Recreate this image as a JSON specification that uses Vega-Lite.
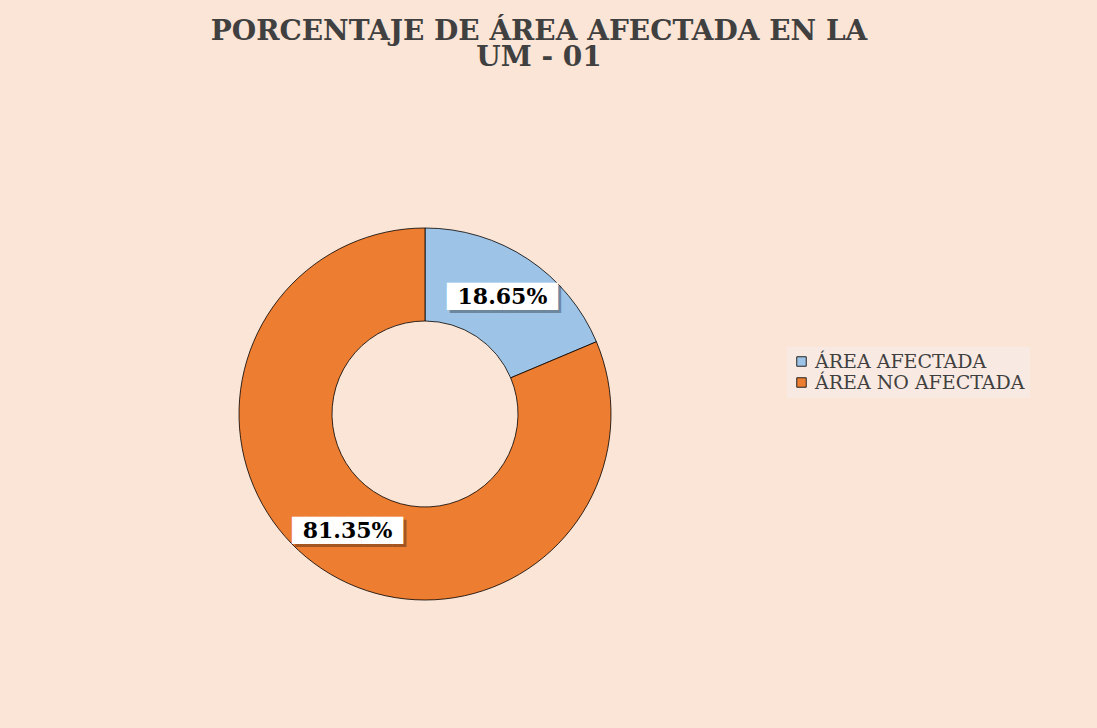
{
  "$schema": "https://vega.github.io/schema/vega-lite/v6.json",
  "autosize": "none",
  "width": 840,
  "height": 628,
  "padding": {"left": 5, "top": 100, "right": 252, "bottom": 0},
  "background": "#FBE5D6",
  "title": {
    "text": ["PORCENTAJE DE ÁREA AFECTADA EN LA", "UM - 01"],
    "font": "DejaVu Serif",
    "fontSize": 28,
    "fontWeight": "bold",
    "color": "#404040",
    "anchor": "middle",
    "frame": "group",
    "dx": 114,
    "offset": 28,
    "lineHeight": 26
  },
  "data": {
    "values": [
      {"area": "ÁREA AFECTADA", "pct": 0.1865},
      {"area": "ÁREA NO AFECTADA", "pct": 0.8135}
    ]
  },
  "encoding": {
    "theta": {"field": "pct", "type": "quantitative", "stack": true}
  },
  "layer": [
    {
      "mark": {"type": "arc", "outerRadius": 186, "innerRadius": 93, "stroke": "#000000", "strokeWidth": 0.8},
      "encoding": {
        "color": {
          "field": "area",
          "type": "nominal",
          "scale": {"domain": ["ÁREA AFECTADA", "ÁREA NO AFECTADA"], "range": ["#9DC3E6", "#ED7D31"]},
          "legend": {
            "title": null,
            "orient": "none",
            "legendX": 782,
            "legendY": 247,
            "symbolType": "square",
            "symbolSize": 90,
            "symbolStrokeColor": "#222222",
            "symbolStrokeWidth": 1,
            "labelFont": "DejaVu Serif",
            "labelFontSize": 19,
            "labelLimit": 400,
            "labelColor": "#404040",
            "rowPadding": 1,
            "fillColor": "#F8EAE2",
            "padding": 5
          }
        }
      }
    },
    {
      "mark": {"type": "text", "radius": 140, "text": "████████", "font": "DejaVu Sans Mono", "fontSize": 23, "color": "#000000", "opacity": 0.3, "dx": 3, "dy": 3}
    },
    {
      "mark": {"type": "text", "radius": 140, "text": "████████", "font": "DejaVu Sans Mono", "fontSize": 23, "color": "#FFFFFF"}
    },
    {
      "mark": {"type": "text", "radius": 140, "font": "DejaVu Serif", "fontSize": 22, "fontWeight": "bold", "color": "#000000"},
      "encoding": {
        "text": {"field": "pct", "type": "quantitative", "format": ".2%"}
      }
    }
  ],
  "config": {
    "view": {"stroke": null}
  }
}
